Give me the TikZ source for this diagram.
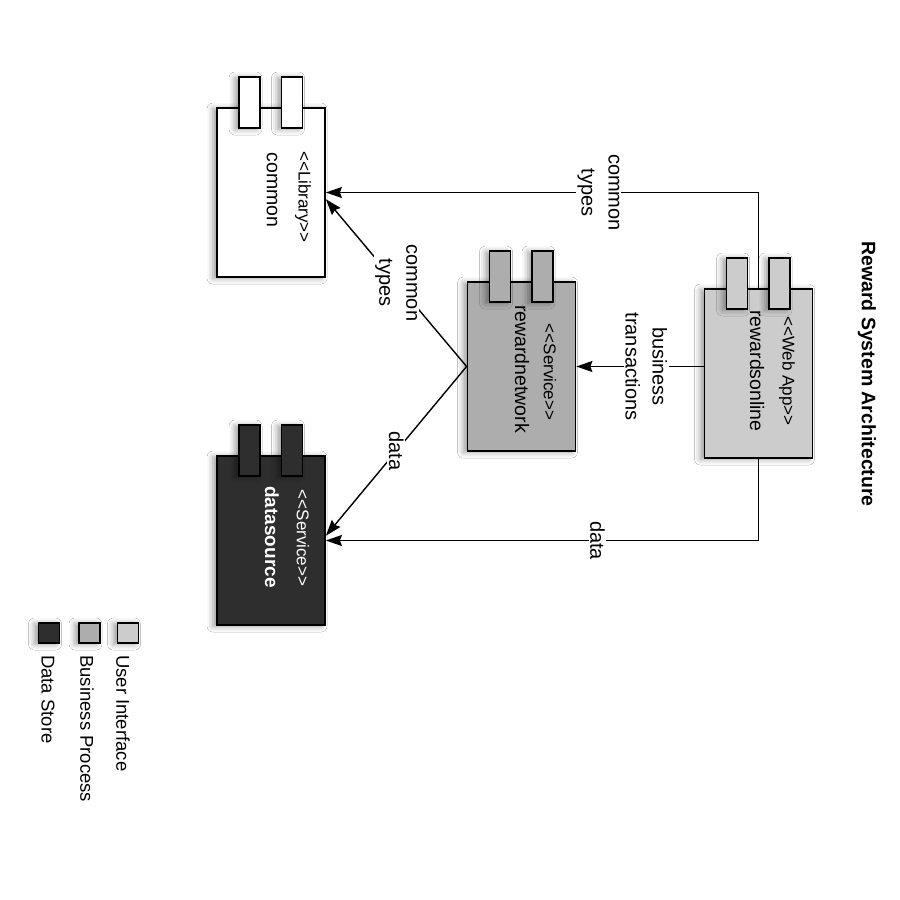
\documentclass[tikz,border=0pt]{standalone}
\usepackage{fontspec}
\setmainfont{Liberation Sans}
\usetikzlibrary{arrows.meta,shadows.blur,calc}
\definecolor{webgray}{gray}{0.80}
\definecolor{netgray}{gray}{0.68}
\definecolor{darkbox}{gray}{0.18}
\begin{document}
\begin{tikzpicture}[x=1pt,y=-1pt,
  shad/.style={blur shadow={shadow xshift=-4pt, shadow yshift=-1pt, shadow blur radius=6pt}},
  box/.style={draw=black, line width=1.8pt, minimum width=108pt, minimum height=169pt, inner sep=0pt, shad},
  tab/.style={draw=black, line width=1.5pt, minimum width=21pt, minimum height=51pt, inner sep=0pt, shad},
  legsq/.style={draw=black, line width=1.5pt, minimum width=21pt, minimum height=20pt, inner sep=0pt, shad},
  stereo/.style={rotate=-90, font=\fontsize{17}{20}\selectfont, inner sep=0pt},
  cname/.style={rotate=-90, font=\fontsize{19.5}{23}\selectfont, inner sep=0pt},
  leg/.style={rotate=-90, anchor=west, font=\fontsize{18.5}{22}\selectfont, inner sep=0pt},
  conn/.style={line width=1.4pt, -{Stealth[length=16pt,width=11pt,inset=2pt]}},
  lbl/.style={rotate=-90, fill=white, align=center, font=\fontsize{20}{27}\selectfont, inner sep=1.5pt},
]
\useasboundingbox (0,0) rectangle (900,900);
\fill[white] (0,0) rectangle (900,900);

% boxes
\node[box, fill=white] (common) at (271,192.5) {};
\node[box, fill=netgray] (network) at (521.5,366.5) {};
\node[box, fill=webgray] (online) at (758.5,373.5) {};
\node[box, fill=darkbox] (datasource) at (271,540.5) {};

% tabs
\node[tab, fill=white] (commonT1) at ($(common.center)+(-21.5,-90)$) {};
\node[tab, fill=white] (commonT2) at ($(common.center)+(21,-90)$) {};
\node[tab, fill=netgray] (networkT1) at ($(network.center)+(-21.5,-90)$) {};
\node[tab, fill=netgray] (networkT2) at ($(network.center)+(21,-90)$) {};
\node[tab, fill=webgray] (onlineT1) at ($(online.center)+(-21.5,-90)$) {};
\node[tab, fill=webgray] (onlineT2) at ($(online.center)+(21,-90)$) {};
\node[tab, fill=darkbox] (datasourceT1) at ($(datasource.center)+(-21.5,-90)$) {};
\node[tab, fill=darkbox] (datasourceT2) at ($(datasource.center)+(21,-90)$) {};

% box texts
\node[stereo] (commonS) at (303,197) {<{}<Library>{}>};
\node[cname] (commonN) at (272,190) {common};
\node[stereo] (networkS) at (550,372) {<{}<Service>{}>};
\node[cname] (networkN) at (522,369) {rewardnetwork};
\node[stereo] (onlineS) at (787,371) {<{}<Web App>{}>};
\node[cname] (onlineN) at (757,371) {rewardsonline};
\node[stereo, text=white] (datasourceS) at (303,538) {<{}<Service>{}>};
\node[cname, text=white, font=\bfseries\fontsize{19}{23}\selectfont] (datasourceN) at (272,537) {datasource};

% title
\node[rotate=-90, inner sep=0pt, font=\bfseries\fontsize{19.5}{23}\selectfont] (title) at (867,374) {Reward System Architecture};

% legend
\node[legsq, fill=darkbox] (legDS) at (49,633) {};
\node[legsq, fill=netgray] (legBP) at (89.5,633) {};
\node[legsq, fill=webgray] (legUI) at (128,633) {};
\node[leg] (legDSt) at (48,655) {Data Store};
\node[leg] (legBPt) at (87,655) {Business Process};
\node[leg] (legUIt) at (123,655) {User Interface};

% connectors
\draw[conn] (online.north) |- node[lbl, pos=0.685] {common\\types} (common.east);
\draw[conn] (network.west) -- node[lbl] {common\\types} (common.-7);
\draw[conn] (network.west) -- node[lbl] {data} (datasource.5);
\draw[conn] (online.south) |- node[lbl, pos=0.686] {data} (datasource.east);
\draw[conn] (online.west |- network.east) -- node[lbl, pos=0.45] {business\\transactions} (network.east);
\end{tikzpicture}
\end{document}
